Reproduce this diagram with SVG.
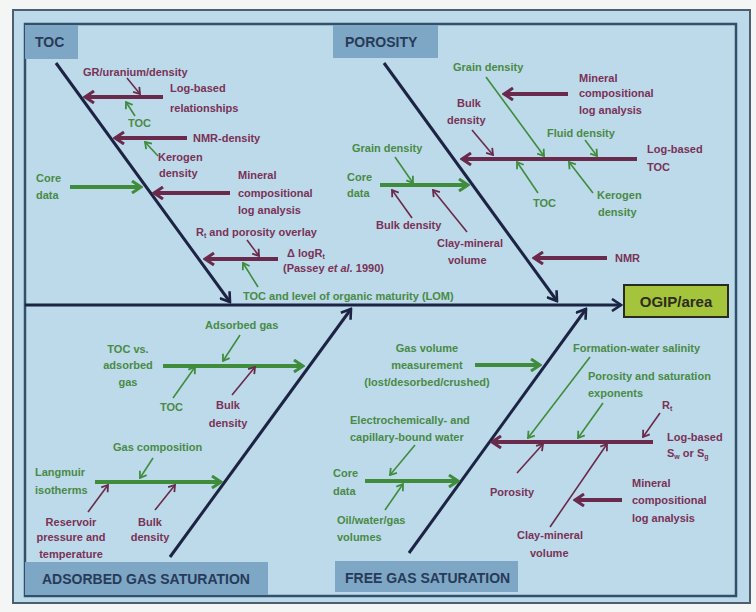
<svg xmlns="http://www.w3.org/2000/svg" width="756" height="612" viewBox="0 0 756 612">
<defs>
<style>
.t{font-family:'Liberation Sans',Arial,sans-serif;font-weight:bold;font-size:11px}
.ht{font-family:'Liberation Sans',Arial,sans-serif;font-weight:bold;font-size:14px;fill:#263b58}
.m{fill:#7a3256}
.g{fill:#4a8a45}
.mid{text-anchor:middle}
.lbl{fill:#7ea6c5}
.am{stroke:#6a2a4b;fill:none}
.ag{stroke:#3f8d3c;fill:none}
.k{stroke-width:4}
.n{stroke-width:1.6}
.sp{stroke:#1d2342;stroke-width:3;fill:none}
</style>
<marker id="hmK" markerUnits="userSpaceOnUse" viewBox="0 0 12 14" refX="10" refY="7" markerWidth="12" markerHeight="14" orient="auto"><path d="M1,1 L10,7 L1,13" fill="none" stroke="#6a2a4b" stroke-width="3"/></marker>
<marker id="hgK" markerUnits="userSpaceOnUse" viewBox="0 0 12 14" refX="10" refY="7" markerWidth="12" markerHeight="14" orient="auto"><path d="M1,1 L10,7 L1,13" fill="none" stroke="#3f8d3c" stroke-width="3"/></marker>
<marker id="hmN" markerUnits="userSpaceOnUse" viewBox="0 0 8 10" refX="7" refY="5" markerWidth="8" markerHeight="10" orient="auto"><path d="M1,1 L7,5 L1,9" fill="none" stroke="#6a2a4b" stroke-width="1.8"/></marker>
<marker id="hgN" markerUnits="userSpaceOnUse" viewBox="0 0 8 10" refX="7" refY="5" markerWidth="8" markerHeight="10" orient="auto"><path d="M1,1 L7,5 L1,9" fill="none" stroke="#3f8d3c" stroke-width="1.8"/></marker>
<marker id="hd" markerUnits="userSpaceOnUse" viewBox="0 0 12 14" refX="10" refY="7" markerWidth="12" markerHeight="14" orient="auto"><path d="M1,1 L10,7 L1,13" fill="none" stroke="#1d2342" stroke-width="2.6"/></marker>
</defs>
<rect width="756" height="612" fill="#f4f6f6"/>
<rect x="13" y="10" width="737" height="593" fill="#bcdaea" stroke="#4d5e6e" stroke-width="2"/>
<rect x="25" y="24" width="711" height="572" fill="none" stroke="#33506b" stroke-width="2.5"/>

<g id="connectors">
<line class="sp" x1="25" y1="305" x2="621" y2="305" marker-end="url(#hd)"/>
<line class="sp" x1="56" y1="63" x2="230" y2="302" marker-end="url(#hd)"/>
<line class="sp" x1="384" y1="63" x2="557" y2="301" marker-end="url(#hd)"/>
<line class="sp" x1="170" y1="557" x2="351" y2="309" marker-end="url(#hd)"/>
<line class="sp" x1="409" y1="553" x2="586" y2="309" marker-end="url(#hd)"/>
<!-- TOC -->
<line class="am n" x1="127" y1="78" x2="140" y2="94" marker-end="url(#hmN)"/>
<line class="am k" x1="163" y1="97" x2="85" y2="97" marker-end="url(#hmK)"/>
<line class="ag n" x1="135" y1="116" x2="126" y2="102" marker-end="url(#hgN)"/>
<line class="am k" x1="187" y1="138" x2="115" y2="138" marker-end="url(#hmK)"/>
<line class="ag n" x1="158" y1="156" x2="145" y2="142" marker-end="url(#hgN)"/>
<line class="ag k" x1="70" y1="187" x2="141" y2="187" marker-end="url(#hgK)"/>
<line class="am k" x1="230" y1="193" x2="154" y2="193" marker-end="url(#hmK)"/>
<line class="am n" x1="247" y1="240" x2="259" y2="256" marker-end="url(#hmN)"/>
<line class="am k" x1="278" y1="259" x2="205" y2="259" marker-end="url(#hmK)"/>
<line class="ag n" x1="258" y1="287" x2="243" y2="263" marker-end="url(#hgN)"/>
<!-- POROSITY -->
<line class="ag n" x1="486" y1="77" x2="544" y2="156" marker-end="url(#hgN)"/>
<line class="am k" x1="568" y1="94" x2="504" y2="94" marker-end="url(#hmK)"/>
<line class="am n" x1="472" y1="130" x2="493" y2="155" marker-end="url(#hmN)"/>
<line class="ag n" x1="585" y1="140" x2="597" y2="156" marker-end="url(#hgN)"/>
<line class="am k" x1="637" y1="159" x2="462" y2="159" marker-end="url(#hmK)"/>
<line class="ag n" x1="538" y1="193" x2="517" y2="162" marker-end="url(#hgN)"/>
<line class="ag n" x1="593" y1="193" x2="569" y2="162" marker-end="url(#hgN)"/>
<line class="ag n" x1="395" y1="157" x2="413" y2="183" marker-end="url(#hgN)"/>
<line class="ag k" x1="380" y1="185" x2="468" y2="185" marker-end="url(#hgK)"/>
<line class="am n" x1="412" y1="218" x2="392" y2="190" marker-end="url(#hmN)"/>
<line class="am n" x1="467" y1="232" x2="433" y2="190" marker-end="url(#hmN)"/>
<line class="am k" x1="607" y1="258" x2="534" y2="258" marker-end="url(#hmK)"/>
<!-- ADSORBED -->
<line class="ag n" x1="240" y1="335" x2="223" y2="361" marker-end="url(#hgN)"/>
<line class="ag k" x1="163" y1="366" x2="303" y2="366" marker-end="url(#hgK)"/>
<line class="ag n" x1="173" y1="398" x2="195" y2="367" marker-end="url(#hgN)"/>
<line class="am n" x1="232" y1="395" x2="255" y2="367" marker-end="url(#hmN)"/>
<line class="ag n" x1="153" y1="458" x2="140" y2="478" marker-end="url(#hgN)"/>
<line class="ag k" x1="95" y1="482" x2="221" y2="482" marker-end="url(#hgK)"/>
<line class="am n" x1="88" y1="512" x2="108" y2="485" marker-end="url(#hmN)"/>
<line class="am n" x1="155" y1="510" x2="175" y2="485" marker-end="url(#hmN)"/>
<!-- FREE GAS -->
<line class="ag k" x1="475" y1="365" x2="540" y2="365" marker-end="url(#hgK)"/>
<line class="ag n" x1="590" y1="357" x2="528" y2="438" marker-end="url(#hgN)"/>
<line class="ag n" x1="603" y1="403" x2="578" y2="438" marker-end="url(#hgN)"/>
<line class="am n" x1="660" y1="413" x2="643" y2="437" marker-end="url(#hmN)"/>
<line class="am k" x1="653" y1="442" x2="492" y2="442" marker-end="url(#hmK)"/>
<line class="ag n" x1="415" y1="445" x2="390" y2="475" marker-end="url(#hgN)"/>
<line class="ag k" x1="365" y1="481" x2="458" y2="481" marker-end="url(#hgK)"/>
<line class="ag n" x1="385" y1="510" x2="403" y2="484" marker-end="url(#hgN)"/>
<line class="am n" x1="517" y1="473" x2="543" y2="444" marker-end="url(#hmN)"/>
<line class="am n" x1="550" y1="527" x2="607" y2="444" marker-end="url(#hmN)"/>
<line class="am k" x1="622" y1="500" x2="575" y2="500" marker-end="url(#hmK)"/>
</g>

<g id="toc-head"><rect class="lbl" x="25" y="25" width="53" height="34"/><text class="ht" x="35" y="47">TOC</text></g>
<g id="porosity-head"><rect class="lbl" x="333" y="25" width="105" height="33"/><text class="ht" x="345" y="47">POROSITY</text></g>
<g id="adsorbed-head"><rect class="lbl" x="25" y="562" width="243" height="33"/><text class="ht" x="42" y="584">ADSORBED GAS SATURATION</text></g>
<g id="freegas-head"><rect class="lbl" x="335" y="561" width="183" height="31"/><text class="ht" x="345" y="583">FREE GAS SATURATION</text></g>
<g id="ogip"><rect x="624" y="285" width="104" height="32" fill="#a3c43b" stroke="#2a2a22" stroke-width="2"/><text x="676" y="307" text-anchor="middle" style="font-family:'Liberation Sans',Arial,sans-serif;font-weight:bold;font-size:15px;fill:#2e2c1c">OGIP/area</text></g>

<g id="toc-labels">
<text class="t m" x="83" y="76">GR/uranium/density</text>
<text class="t m" x="170" y="92">Log-based</text>
<text class="t m" x="170" y="112">relationships</text>
<text class="t g" x="128" y="127">TOC</text>
<text class="t m" x="193" y="142">NMR-density</text>
<text class="t m" x="158" y="161">Kerogen</text>
<text class="t m" x="159" y="177">density</text>
<text class="t g" x="36" y="182">Core</text>
<text class="t g" x="36" y="199">data</text>
<text class="t m" x="238" y="179">Mineral</text>
<text class="t m" x="238" y="197">compositional</text>
<text class="t m" x="238" y="214">log analysis</text>
<text class="t m" x="196" y="236">R<tspan font-size="7" dy="2">t</tspan><tspan dy="-2"> and porosity overlay</tspan></text>
<text class="t m" x="287" y="257">Δ logR<tspan font-size="7" dy="2">t</tspan></text>
<text class="t m" x="283" y="272">(Passey <tspan font-style="italic">et al.</tspan> 1990)</text>
<text class="t g" x="243" y="300">TOC and level of organic maturity (LOM)</text>
</g>

<g id="porosity-labels">
<text class="t g" x="453" y="71">Grain density</text>
<text class="t m" x="579" y="82">Mineral</text>
<text class="t m" x="579" y="97">compositional</text>
<text class="t m" x="579" y="114">log analysis</text>
<text class="t m" x="457" y="107">Bulk</text>
<text class="t m" x="447" y="124">density</text>
<text class="t g" x="547" y="137">Fluid density</text>
<text class="t m" x="647" y="153">Log-based</text>
<text class="t m" x="647" y="171">TOC</text>
<text class="t g" x="533" y="207">TOC</text>
<text class="t g" x="597" y="199">Kerogen</text>
<text class="t g" x="598" y="216">density</text>
<text class="t g" x="352" y="152">Grain density</text>
<text class="t g" x="347" y="181">Core</text>
<text class="t g" x="347" y="197">data</text>
<text class="t m" x="376" y="229">Bulk density</text>
<text class="t m" x="437" y="247">Clay-mineral</text>
<text class="t m" x="448" y="264">volume</text>
<text class="t m" x="615" y="262">NMR</text>
</g>

<g id="adsorbed-labels">
<text class="t g" x="205" y="329">Adsorbed gas</text>
<text class="t g mid" x="128" y="353">TOC  vs.</text>
<text class="t g mid" x="128" y="369">adsorbed</text>
<text class="t g mid" x="128" y="386">gas</text>
<text class="t g" x="160" y="411">TOC</text>
<text class="t m mid" x="228" y="409">Bulk</text>
<text class="t m mid" x="228" y="427">density</text>
<text class="t g" x="113" y="451">Gas composition</text>
<text class="t g" x="35" y="476">Langmuir</text>
<text class="t g" x="35" y="494">isotherms</text>
<text class="t m mid" x="71" y="526">Reservoir</text>
<text class="t m mid" x="71" y="541">pressure and</text>
<text class="t m mid" x="71" y="558">temperature</text>
<text class="t m mid" x="150" y="526">Bulk</text>
<text class="t m mid" x="150" y="541">density</text>
</g>

<g id="freegas-labels">
<text class="t g mid" x="427" y="352">Gas volume</text>
<text class="t g mid" x="427" y="369">measurement</text>
<text class="t g mid" x="427" y="386">(lost/desorbed/crushed)</text>
<text class="t g" x="573" y="352">Formation-water salinity</text>
<text class="t g" x="588" y="380">Porosity and saturation</text>
<text class="t g" x="588" y="397">exponents</text>
<text class="t m" x="662" y="409">R<tspan font-size="7" dy="2">t</tspan></text>
<text class="t m" x="667" y="441">Log-based</text>
<text class="t m" x="667" y="457">S<tspan font-size="7" dy="2">w</tspan><tspan dy="-2"> or S</tspan><tspan font-size="7" dy="2">g</tspan></text>
<text class="t g" x="350" y="424">Electrochemically-  and</text>
<text class="t g" x="350" y="441">capillary-bound water</text>
<text class="t g" x="333" y="477">Core</text>
<text class="t g" x="333" y="495">data</text>
<text class="t g" x="337" y="524">Oil/water/gas</text>
<text class="t g" x="337" y="541">volumes</text>
<text class="t m" x="490" y="496">Porosity</text>
<text class="t m" x="517" y="539">Clay-mineral</text>
<text class="t m" x="530" y="557">volume</text>
<text class="t m" x="632" y="487">Mineral</text>
<text class="t m" x="632" y="504">compositional</text>
<text class="t m" x="632" y="522">log analysis</text>
</g>
</svg>
